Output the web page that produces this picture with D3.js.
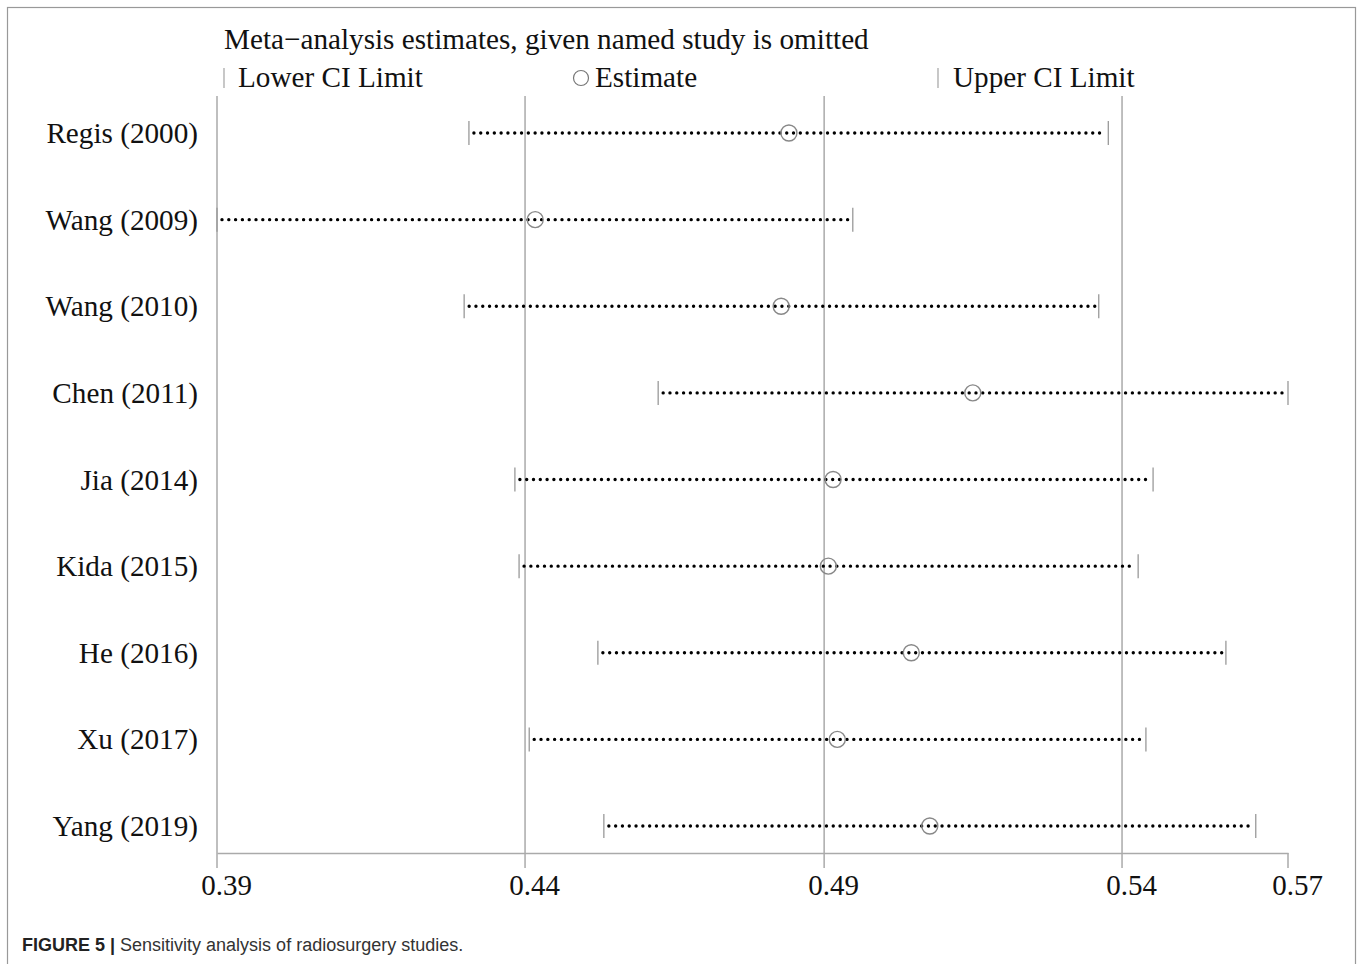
<!DOCTYPE html>
<html>
<head>
<meta charset="utf-8">
<script src="https://cdn.jsdelivr.net/npm/d3@7"></script>
<style>
  body { margin: 0; background: #fff; }
  svg text { font-family: "Liberation Serif", "Times New Roman", serif; fill: #111; }
  .caption { font-family: "Liberation Sans", Arial, sans-serif; font-size: 18px; fill: #333; }
</style>
</head>
<body>
<svg id="chart" width="1358" height="964"></svg>
<script>
// studies omitted one at a time
let studies = ["Regis (2000)", "Wang (2009)", "Wang (2010)", "Chen (2011)", "Jia (2014)",
               "Kida (2015)", "He (2016)", "Xu (2017)", "Yang (2019)"];
let estimate = [0.4857, 0.4432, 0.4844, 0.5165, 0.4931, 0.4923, 0.5062, 0.4938, 0.5093];
let lowerCI  = [0.4321, 0.3899, 0.4313, 0.4638, 0.4398, 0.4405, 0.4537, 0.4422, 0.4547];
let upperCI  = [0.5392, 0.4964, 0.5376, 0.5693, 0.5467, 0.5442, 0.5589, 0.5455, 0.5639];
// axis ticks: min, overall lower, overall estimate, overall upper, max
let tickValues = [0.3899, 0.4415, 0.4916, 0.5415, 0.5693];
let tickLabels = ["0.39", "0.44", "0.49", "0.54", "0.57"];

let svg = d3.select("#chart");

// frame round the figure
svg.append("rect")
    .attr("x", 7.5).attr("y", 7.5)
    .attr("width", 1348).attr("height", 970)
    .attr("fill", "none").attr("stroke", "#999").attr("stroke-width", 1.2);

let x = d3.scaleLinear().domain([0.3899, 0.5693]).range([217, 1288]);
let y = d3.scalePoint().domain(studies).range([133, 826]);

let plotTop = 96, axisY = 853;

// vertical reference lines
svg.selectAll(".grid").data(tickValues).enter().append("line")
    .attr("x1", d => x(d)).attr("x2", d => x(d))
    .attr("y1", d => (d === tickValues[tickValues.length - 1] ? axisY : plotTop))
    .attr("y2", axisY + 15)
    .attr("stroke", "#aaa").attr("stroke-width", 1.5);

let xAxis = d3.axisBottom(x).tickValues(tickValues)
    .tickFormat((d, i) => tickLabels[i]).tickSize(0).tickPadding(0);
let ax = svg.append("g").attr("transform", "translate(0," + axisY + ")").call(xAxis);
ax.select(".domain").attr("stroke", "#aaa").attr("stroke-width", 1.5);
ax.selectAll("text")
    .attr("font-family", "Liberation Serif, Times New Roman, serif")
    .attr("font-size", 29).attr("fill", "#111")
    .attr("dx", 9).attr("dy", 0).attr("y", 42);

// study labels
svg.selectAll(".lab").data(studies).enter().append("text")
    .attr("x", 198).attr("y", d => y(d) + 10)
    .attr("text-anchor", "end").attr("font-size", 29.2)
    .text(d => d);

// dotted CI lines
svg.selectAll(".ci").data(studies).enter().append("line")
    .attr("x1", (d, i) => x(lowerCI[i]) + 5)
    .attr("x2", (d, i) => x(upperCI[i]) - 4)
    .attr("y1", d => y(d)).attr("y2", d => y(d))
    .attr("stroke", "#000").attr("stroke-width", 3.4)
    .attr("stroke-linecap", "round").attr("stroke-dasharray", "0 6.8");

// CI limit ticks
svg.selectAll(".lo").data(studies).enter().append("line")
    .attr("x1", (d, i) => x(lowerCI[i])).attr("x2", (d, i) => x(lowerCI[i]))
    .attr("y1", d => y(d) - 12).attr("y2", d => y(d) + 12)
    .attr("stroke", "#999").attr("stroke-width", 1.3);
svg.selectAll(".hi").data(studies).enter().append("line")
    .attr("x1", (d, i) => x(upperCI[i])).attr("x2", (d, i) => x(upperCI[i]))
    .attr("y1", d => y(d) - 12).attr("y2", d => y(d) + 12)
    .attr("stroke", "#999").attr("stroke-width", 1.3);

// estimates
svg.selectAll(".est").data(studies).enter().append("circle")
    .attr("cx", (d, i) => x(estimate[i])).attr("cy", d => y(d))
    .attr("r", 8).attr("fill", "none")
    .attr("stroke", "#888").attr("stroke-width", 1.4);

// title and legend
svg.append("text").attr("x", 224).attr("y", 49).attr("font-size", 29.2)
    .text("Meta\u2212analysis estimates, given named study is omitted");
svg.append("line").attr("x1", 224).attr("x2", 224).attr("y1", 68).attr("y2", 88)
    .attr("stroke", "#aaa").attr("stroke-width", 1.3);
svg.append("text").attr("x", 238).attr("y", 87).attr("font-size", 29.2).text("Lower CI Limit");
svg.append("circle").attr("cx", 581).attr("cy", 78).attr("r", 7.5)
    .attr("fill", "none").attr("stroke", "#777").attr("stroke-width", 1.2);
svg.append("text").attr("x", 595).attr("y", 87).attr("font-size", 29.2).text("Estimate");
svg.append("line").attr("x1", 938).attr("x2", 938).attr("y1", 68).attr("y2", 88)
    .attr("stroke", "#aaa").attr("stroke-width", 1.3);
svg.append("text").attr("x", 953).attr("y", 87).attr("font-size", 29.2).text("Upper CI Limit");

// caption
let cap = svg.append("text").attr("class", "caption").attr("x", 22).attr("y", 951);
cap.append("tspan").attr("font-weight", "bold").style("fill", "#222").text("FIGURE 5 | ");
cap.append("tspan").text("Sensitivity analysis of radiosurgery studies.");
</script>
</body>
</html>
